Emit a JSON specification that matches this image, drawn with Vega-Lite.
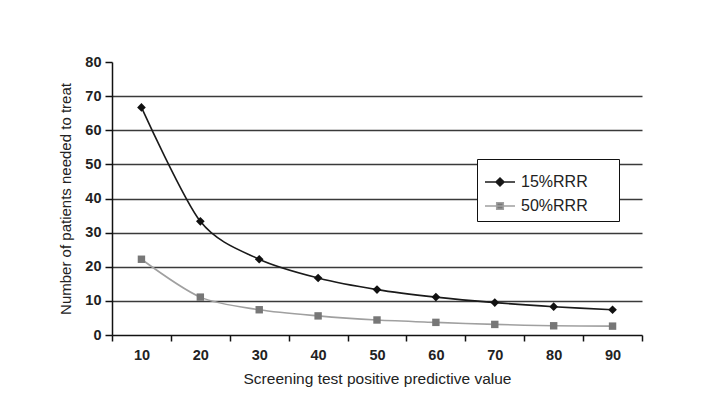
{
  "$schema": "https://vega.github.io/schema/vega-lite/v6.json",
  "autosize": "none",
  "width": 530,
  "height": 273,
  "padding": {"left": 112, "top": 62, "right": 66, "bottom": 63},
  "background": "white",
  "config": {
    "font": "Liberation Sans",
    "view": {"stroke": null},
    "axis": {"labelFont": "Liberation Sans", "titleFont": "Liberation Sans", "labelColor": "#222", "titleColor": "#222", "labelFontSize": 14.5, "labelFontWeight": "bold", "titleFontSize": 15.5, "titleFontWeight": "normal", "domainColor": "#111", "tickColor": "#111", "domainWidth": 1.5, "tickWidth": 1.5}
  },
  "data": {
    "values": [
      {"ppv": 10, "series": "15%RRR", "nnt": 66.7},
      {"ppv": 20, "series": "15%RRR", "nnt": 33.3},
      {"ppv": 30, "series": "15%RRR", "nnt": 22.2},
      {"ppv": 40, "series": "15%RRR", "nnt": 16.7},
      {"ppv": 50, "series": "15%RRR", "nnt": 13.3},
      {"ppv": 60, "series": "15%RRR", "nnt": 11.1},
      {"ppv": 70, "series": "15%RRR", "nnt": 9.5},
      {"ppv": 80, "series": "15%RRR", "nnt": 8.3},
      {"ppv": 90, "series": "15%RRR", "nnt": 7.4},
      {"ppv": 10, "series": "50%RRR", "nnt": 22.2},
      {"ppv": 20, "series": "50%RRR", "nnt": 11.1},
      {"ppv": 30, "series": "50%RRR", "nnt": 7.4},
      {"ppv": 40, "series": "50%RRR", "nnt": 5.6},
      {"ppv": 50, "series": "50%RRR", "nnt": 4.4},
      {"ppv": 60, "series": "50%RRR", "nnt": 3.7},
      {"ppv": 70, "series": "50%RRR", "nnt": 3.1},
      {"ppv": 80, "series": "50%RRR", "nnt": 2.7},
      {"ppv": 90, "series": "50%RRR", "nnt": 2.6}
    ]
  },
  "encoding": {
    "x": {
      "field": "ppv", "type": "ordinal", "bandPosition": 0.5,
      "scale": {"type": "band", "paddingInner": 0, "paddingOuter": 0},
      "axis": {"title": "Screening test positive predictive value", "labelAngle": 0, "tickBand": "extent", "grid": false, "tickSize": 6, "labelPadding": 7, "titlePadding": 10}
    },
    "y": {
      "field": "nnt", "type": "quantitative",
      "scale": {"domain": [0, 80], "nice": false},
      "axis": {"title": "Number of patients needed to treat", "titleFontSize": 15, "values": [0,10,20,30,40,50,60,70,80], "grid": true, "gridColor": "#3a3a3a", "gridWidth": 1.6,
        "gridOpacity": {"condition": {"test": "datum.value == 80 || datum.value == 0", "value": 0}, "value": 1},
        "tickSize": 7, "labelPadding": 4, "titlePadding": 11}
    }
  },
  "layer": [
    {
      "mark": {"type": "line", "interpolate": "cardinal", "tension": 0.15, "strokeWidth": 1.6},
      "encoding": {
        "color": {
          "field": "series", "type": "nominal",
          "scale": {"domain": ["15%RRR", "50%RRR"], "range": ["#1a1a1a", "#a0a0a0"]},
          "legend": {
            "title": null, "orient": "none", "legendX": 365, "legendY": 97,
            "strokeColor": "#111", "fillColor": "white", "padding": 7,
            "labelFontSize": 16, "labelColor": "#222", "labelFont": "Liberation Sans",
            "labelExpr": "datum.label + '\u2800\u2800'",
            "symbolSize": 900, "symbolStrokeWidth": 1.5, "rowPadding": 0, "labelOffset": 5,
            "encode": {
              "symbols": {"update": {
                "shape": {"signal": "datum.value === '15%RRR' ? 'M-1,0H1M0,-0.27L0.27,0L0,0.27L-0.27,0Z' : 'M-1,0H1M-0.22,-0.22H0.22V0.22H-0.22Z'"},
                "size": {"value": 900},
                "strokeWidth": {"value": 1.5},
                "fill": {"signal": "datum.value === '15%RRR' ? '#111' : '#777'"},
                "stroke": {"signal": "datum.value === '15%RRR' ? '#1a1a1a' : '#a0a0a0'"},
                "opacity": {"value": 1}
              }}
            }
          }
        }
      }
    },
    {
      "transform": [{"filter": "datum.series === '15%RRR'"}],
      "mark": {"type": "point", "filled": true, "opacity": 1, "shape": "diamond", "size": 75, "color": "#111"}
    },
    {
      "transform": [{"filter": "datum.series === '50%RRR'"}],
      "mark": {"type": "point", "filled": true, "opacity": 1, "shape": "square", "size": 55, "color": "#777"}
    }
  ]
}
